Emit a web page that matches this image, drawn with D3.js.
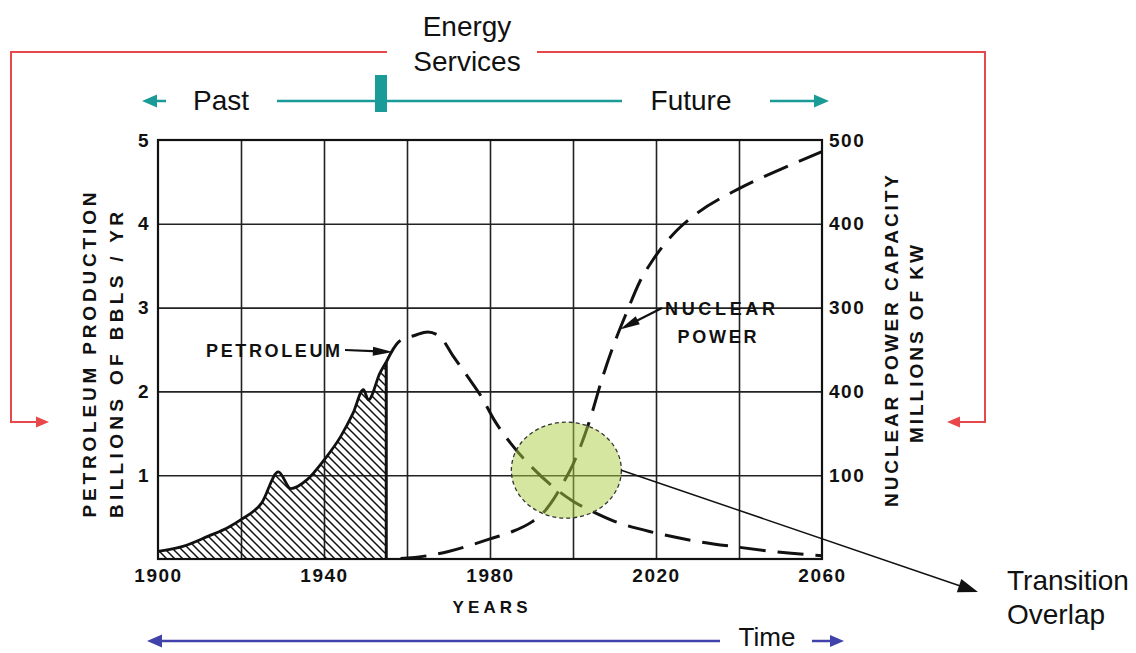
<!DOCTYPE html>
<html><head><meta charset="utf-8">
<script src="https://cdn.jsdelivr.net/npm/d3@7"></script>
<style>body{margin:0;background:#fff}svg{display:block}</style>
</head><body>
<svg id="c" width="1136" height="653"></svg>
<script>
// ---- data ----
const petroHistYears  = [1900,1906,1912,1917,1920,1925,1929,1932,1936,1940,1944,1947,1949.5,1950.7,1953.5,1955];
const petroHistValues = [0.09,0.15,0.27,0.38,0.47,0.67,1.04,0.84,0.95,1.18,1.46,1.74,2.02,1.90,2.22,2.35];
const petroFutYears   = [1955,1958,1962,1965,1968,1971,1975,1978,1981,1985,1990,1995,2000,2005,2010,2020,2030,2040,2050,2060];
const petroFutValues  = [2.35,2.59,2.67,2.71,2.65,2.43,2.15,1.93,1.66,1.38,1.10,0.87,0.69,0.56,0.45,0.31,0.21,0.14,0.08,0.04];
const nuclearYears    = [1957,1965,1970,1975,1980,1985,1990,1993,1995,1998,2000,2004,2007,2010,2013,2016,2019,2025,2030,2040,2050,2060];
const nuclearValues   = [0,4,9,16,24,32,44,56,69,94,113,165,215,258,295,330,355,392,413,442,465,486];
const gridYears       = [1920,1940,1960,1980,2000,2020,2040];
const xTickYears      = [1900,1940,1980,2020,2060];
const xTickLabels     = ["1900","1940","1980","2020","2060"];
const leftTicks       = [1,2,3,4,5];
const leftTickLabels  = ["1","2","3","4","5"];
const rightTicks      = [100,200,300,400,500];
const rightTickLabels = ["100","400","300","400","500"];

const svg = d3.select('#c');
const x  = d3.scaleLinear().domain([1900,2060]).range([158,822]);
const yL = d3.scaleLinear().domain([0,5]).range([559,140]);
const yR = d3.scaleLinear().domain([0,500]).range([559,140]);
const W = x(2060)-x(1900), H = yL(0)-yL(5);

const defs = svg.append('defs');
const pat = defs.append('pattern').attr('id','hatch').attr('patternUnits','userSpaceOnUse')
  .attr('width',8).attr('height',8);
pat.append('path').attr('d','M-2,-2L10,10M-2,6L2,10M6,-2L10,2').attr('stroke','#111').attr('stroke-width',1.5);

function arrowHead(g,x1,y1,x2,y2,len,wid,color){
  const a=Math.atan2(y2-y1,x2-x1), c=Math.cos(a), s=Math.sin(a);
  const bx=x2-len*c, by=y2-len*s;
  g.append('path').attr('d',`M${x2},${y2}L${bx-wid/2*s},${by+wid/2*c}L${bx+wid/2*s},${by-wid/2*c}Z`).attr('fill',color);
}
function arrow(x1,y1,x2,y2,color,sw,len,wid){
  const a=Math.atan2(y2-y1,x2-x1);
  svg.append('line').attr('x1',x1).attr('y1',y1).attr('x2',x2-len*0.7*Math.cos(a)).attr('y2',y2-len*0.7*Math.sin(a))
    .attr('stroke',color).attr('stroke-width',sw);
  arrowHead(svg,x1,y1,x2,y2,len,wid,color);
}

// ---- grid ----
svg.append('g').attr('transform',`translate(0,${yL(0)})`)
  .call(d3.axisBottom(x).tickValues(gridYears).tickSize(-H).tickFormat(''))
  .call(g=>{g.select('.domain').remove();g.selectAll('line').attr('stroke','#222').attr('stroke-width',1.6);});
svg.append('g').attr('transform',`translate(${x(1900)},0)`)
  .call(d3.axisLeft(yL).tickValues([1,2,3,4]).tickSize(-W).tickFormat(''))
  .call(g=>{g.select('.domain').remove();g.selectAll('line').attr('stroke','#222').attr('stroke-width',1.6);});

// ---- petroleum historical (hatched) ----
const histPts = petroHistYears.map((d,i)=>[d,petroHistValues[i]]);
const area = d3.area().x(d=>x(d[0])).y0(yL(0)).y1(d=>yL(d[1])).curve(d3.curveMonotoneX);
svg.append('path').datum(histPts).attr('d',area).attr('fill','url(#hatch)');
const line = d3.line().x(d=>x(d[0])).y(d=>yL(d[1])).curve(d3.curveMonotoneX);
svg.append('path').datum(histPts).attr('d',line).attr('fill','none').attr('stroke','#111').attr('stroke-width',2.8);
svg.append('line').attr('x1',x(1955)).attr('x2',x(1955)).attr('y1',yL(0)).attr('y2',yL(2.35))
  .attr('stroke','#111').attr('stroke-width',3);

// ---- petroleum forecast ----
const futPts = petroFutYears.map((d,i)=>[d,petroFutValues[i]]);
svg.append('path').datum(futPts).attr('d',line).attr('fill','none').attr('stroke','#111')
  .attr('stroke-width',3).attr('stroke-dasharray','26,12');

// ---- nuclear ----
const nucPts = nuclearYears.map((d,i)=>[d,nuclearValues[i]]);
const nline = d3.line().x(d=>x(d[0])).y(d=>yR(d[1])).curve(d3.curveMonotoneX);
svg.append('path').datum(nucPts).attr('d',nline).attr('fill','none').attr('stroke','#111')
  .attr('stroke-width',3).attr('stroke-dasharray','26,12').attr('stroke-dashoffset',-6);

// ---- frame ----
svg.append('rect').attr('x',x(1900)).attr('y',yL(5)).attr('width',W).attr('height',H)
  .attr('fill','none').attr('stroke','#111').attr('stroke-width',2.2);

// ---- tick labels via axes ----
const tickFont = g=>{g.select('.domain').remove();g.selectAll('line').remove();
  g.selectAll('text').attr('font-family','Liberation Sans, Arial, sans-serif').attr('font-weight','bold')
   .attr('font-size',19).attr('fill','#111').attr('letter-spacing',1.5);};
svg.append('g').attr('transform',`translate(${x(1900)},0)`)
  .call(d3.axisLeft(yL).tickValues(leftTicks).tickFormat((d,i)=>leftTickLabels[i]).tickSize(0).tickPadding(8)).call(tickFont);
svg.append('g').attr('transform',`translate(${x(2060)},0)`)
  .call(d3.axisRight(yR).tickValues(rightTicks).tickFormat((d,i)=>rightTickLabels[i]).tickSize(0).tickPadding(7)).call(tickFont);
svg.append('g').attr('transform',`translate(0,${yL(0)})`)
  .call(d3.axisBottom(x).tickValues(xTickYears).tickFormat((d,i)=>xTickLabels[i]).tickSize(0).tickPadding(10)).call(tickFont);

// ---- axis titles ----
function vtext(cx,cy,txt,len){
  svg.append('text').attr('transform',`translate(${cx},${cy}) rotate(-90)`)
    .attr('text-anchor','middle').attr('dominant-baseline','central')
    .attr('font-family','Liberation Sans, Arial, sans-serif').attr('font-weight','bold').attr('font-size',19)
    .attr('fill','#111').attr('textLength',len).attr('lengthAdjust','spacing').text(txt);
}
vtext(89,355,'PETROLEUM  PRODUCTION',325);
vtext(116,365,'BILLIONS  OF  BBLS / YR',306);
vtext(891,341,'NUCLEAR  POWER  CAPACITY',332);
vtext(916,344,'MILLIONS  OF  KW',198);
function htext(cx,cy,txt,len,size){
  svg.append('text').attr('x',cx).attr('y',cy).attr('text-anchor','middle').attr('dominant-baseline','central')
    .attr('font-family','Liberation Sans, Arial, sans-serif').attr('font-weight','bold').attr('font-size',size)
    .attr('fill','#111').attr('textLength',len).attr('lengthAdjust','spacing').text(txt);
}
htext(x(1980),607,'YEARS',75,17);
htext(273,351,'PETROLEUM',134,18);
htext(720,309,'NUCLEAR',110,18);
htext(717,337,'POWER',79,18);

// annotation arrows
arrow(345,350,x(1956.6),yL(2.47),'#111',2.2,20,9);
arrow(662,308,x(2011.3),yL(2.74),'#111',2.2,20,9);

// ---- transition overlap ellipse ----
const cx=x(1998.4), cy=yL(1.06);
svg.append('ellipse').attr('cx',cx).attr('cy',cy).attr('rx',55).attr('ry',48)
  .attr('fill','rgb(172,205,66)').attr('fill-opacity',0.5)
  .attr('stroke','#333').attr('stroke-width',1.3).attr('stroke-dasharray','4,3');
arrow(cx+55,cy,978,592,'#111',1.5,20,14);

// ---- text annotations ----
const sans='Liberation Sans, Arial, sans-serif';
function label(x0,y0,txt,anchor,size){
  svg.append('text').attr('x',x0).attr('y',y0).attr('text-anchor',anchor||'start')
    .attr('font-family',sans).attr('font-size',size||28).attr('fill','#111').text(txt);
}
label(467,36,'Energy','middle');
label(467,71,'Services','middle');
label(1007,590,'Transition');
label(1007,624,'Overlap');

// red frame
const red='#e8474b';
svg.append('path').attr('d','M387,52H11V422H40').attr('fill','none').attr('stroke',red).attr('stroke-width',2);
arrowHead(svg,11,422,49,422,13,11,red);
svg.append('path').attr('d','M537,52H985V422H957').attr('fill','none').attr('stroke',red).attr('stroke-width',2);
arrowHead(svg,985,422,947,422,13,11,red);

// teal past/future
const teal='#1a9b97';
arrow(166,101,142,101,teal,2.5,15,13);
label(221,110,'Past','middle');
svg.append('line').attr('x1',277).attr('x2',622).attr('y1',101).attr('y2',101).attr('stroke',teal).attr('stroke-width',2.5);
svg.append('rect').attr('x',375).attr('y',75).attr('width',12).attr('height',37).attr('fill',teal);
label(691,110,'Future','middle');
arrow(770,101,829,101,teal,2.5,15,13);

// blue time
const blue='#4141aa';
arrow(720,641,147,641,blue,2.5,15,13);
label(767,646,'Time','middle',26);
arrow(812,641,844,641,blue,2.5,14,12);
</script>
</body></html>
